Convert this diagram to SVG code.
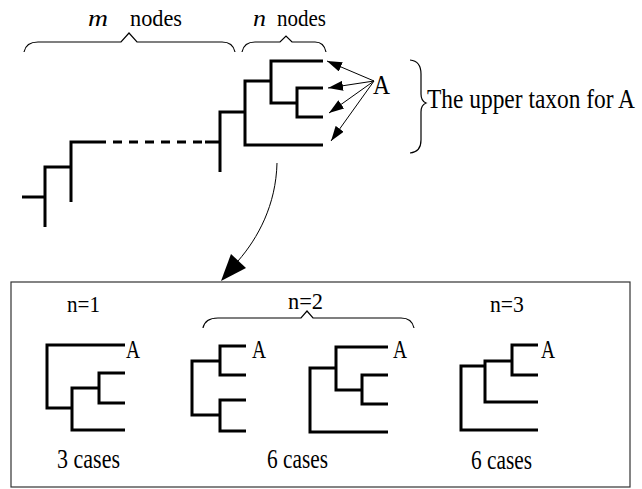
<svg xmlns="http://www.w3.org/2000/svg" width="642" height="489" viewBox="0 0 642 489" font-family="Liberation Serif, DejaVu Serif, serif" font-size="27">
<style>
.i{font-style:italic}
.tr{fill:none;stroke:#000;stroke-width:3;stroke-linejoin:miter;stroke-linecap:butt}
.br{fill:none;stroke:#000;stroke-width:1.2}
.ar{fill:none;stroke:#000;stroke-width:1}
</style>
<defs>
<marker id="ah" markerUnits="userSpaceOnUse" markerWidth="15" markerHeight="10" refX="15" refY="5" orient="auto">
<path d="M0,0 L15,5 L0,10 z" fill="#000"/>
</marker>
</defs>
<rect width="642" height="489" fill="#fff"/>

<g id="label-m">
<text class="i" x="88" y="26" font-size="24" textLength="20" lengthAdjust="spacingAndGlyphs">m</text>
<text x="130" y="26" font-size="24" textLength="52" lengthAdjust="spacingAndGlyphs">nodes</text>
<path class="br" d="M24,52 Q26,42 38,42 L121,42 L129,33 L137,42 L222,42 Q233,42 235,52"/>
</g>
<g id="label-n">
<text class="i" x="253" y="26" font-size="24" textLength="13" lengthAdjust="spacingAndGlyphs">n</text>
<text x="277" y="26" font-size="24" textLength="49" lengthAdjust="spacingAndGlyphs">nodes</text>
<path class="br" d="M242,52 Q244,42 255,42 L280,42 L286,36 L292,42 L315,42 Q324,42 326,52"/>
</g>

<g id="tree-main">
<polyline class="tr" points="22,197 45,197"/>
<polyline class="tr" points="45,227 45,167 71,167"/>
<polyline class="tr" points="71,202 71,142 97,142"/>
<line class="tr" x1="97" y1="142" x2="205" y2="142" stroke-dasharray="9 7"/>
<polyline class="tr" points="205,142 220,142"/>
<polyline class="tr" points="220,172 220,112 245,112"/>
<polyline class="tr" points="323,145 245,145 245,81 271,81"/>
<polyline class="tr" points="323,61 271,61 271,103 297,103"/>
<polyline class="tr" points="323,88 297,88 297,117 323,117"/>
</g>

<g id="node-A">
<text x="373" y="94" textLength="17" lengthAdjust="spacingAndGlyphs">A</text>
</g>

<g id="upper-taxon">
<path class="br" d="M410,60 Q421,61 421,74 L421,94 Q421,101 426,103 Q421,105 421,112 L421,140 Q421,152 410,153"/>
<text x="427" y="108" textLength="208" lengthAdjust="spacingAndGlyphs">The upper taxon for A</text>
</g>

<g id="box">
<rect x="11" y="282" width="619" height="205" fill="none" stroke="#333" stroke-width="1.2"/>
</g>

<g id="case-n1">
<text x="67" y="312" font-size="24" textLength="33" lengthAdjust="spacingAndGlyphs">n=1</text>
<polyline class="tr" points="125,345 47,345 47,408 72,408"/>
<polyline class="tr" points="125,430 72,430 72,388 99,388"/>
<polyline class="tr" points="125,373 99,373 99,403 125,403"/>
<text x="126" y="358" font-size="25" textLength="14" lengthAdjust="spacingAndGlyphs">A</text>
<text x="57" y="468" textLength="63" lengthAdjust="spacingAndGlyphs">3 cases</text>
</g>

<g id="case-n2">
<text x="288" y="309" font-size="24" textLength="35" lengthAdjust="spacingAndGlyphs">n=2</text>
<path class="br" d="M203,328 Q205,318 218,318 L301,318 L307,311 L313,318 L401,318 Q412,318 414,328"/>
<polyline class="tr" points="220,361 192,361 192,415 220,415"/>
<polyline class="tr" points="246,346 220,346 220,375 246,375"/>
<polyline class="tr" points="246,400 220,400 220,431 246,431"/>
<text x="252" y="358" font-size="25" textLength="14" lengthAdjust="spacingAndGlyphs">A</text>
<polyline class="tr" points="388,432 310,432 310,368 336,368"/>
<polyline class="tr" points="388,347 336,347 336,390 362,390"/>
<polyline class="tr" points="388,375 362,375 362,404 388,404"/>
<text x="393" y="358" font-size="25" textLength="14" lengthAdjust="spacingAndGlyphs">A</text>
<text x="267" y="468" textLength="61" lengthAdjust="spacingAndGlyphs">6 cases</text>
</g>

<g id="case-n3">
<text x="490" y="312" font-size="24" textLength="34" lengthAdjust="spacingAndGlyphs">n=3</text>
<polyline class="tr" points="538,430 461,430 461,366 485,366"/>
<polyline class="tr" points="538,402 485,402 485,361 512,361"/>
<polyline class="tr" points="538,345 512,345 512,375 538,375"/>
<text x="541" y="358" font-size="25" textLength="14" lengthAdjust="spacingAndGlyphs">A</text>
<text x="471" y="469" textLength="61" lengthAdjust="spacingAndGlyphs">6 cases</text>
</g>

<g id="connectors">
<line class="ar" x1="374" y1="81" x2="327" y2="61" marker-end="url(#ah)"/>
<line class="ar" x1="374" y1="81" x2="328" y2="88" marker-end="url(#ah)"/>
<line class="ar" x1="374" y1="81" x2="329" y2="113" marker-end="url(#ah)"/>
<line class="ar" x1="374" y1="81" x2="331" y2="141" marker-end="url(#ah)"/>
<path class="ar" d="M277,163 C276,205 258,238 238,261"/>
<polygon points="221,281 231,254 246,268" fill="#000"/>
</g>
</svg>
